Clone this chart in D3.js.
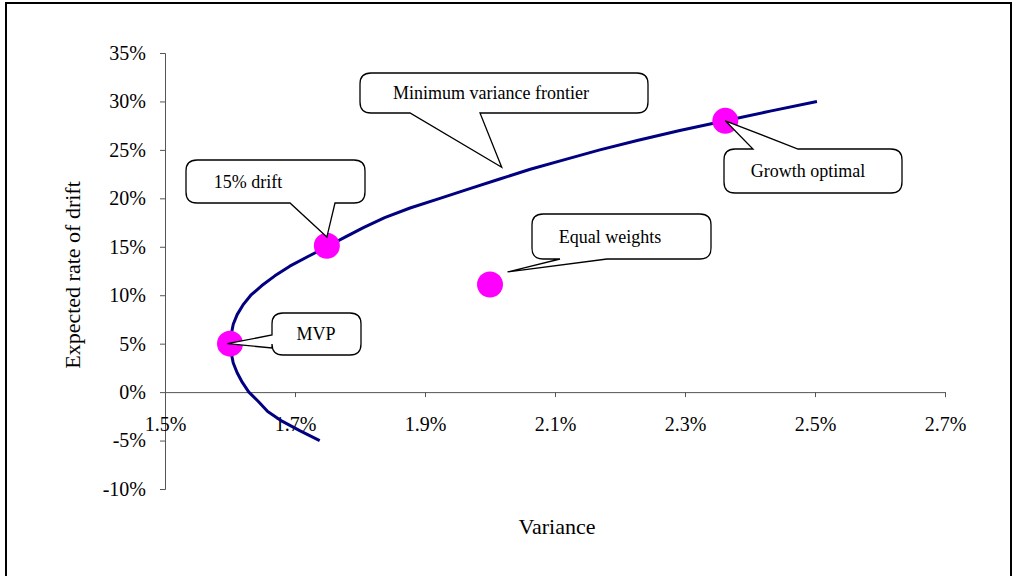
<!DOCTYPE html>
<html>
<head>
<meta charset="utf-8">
<script src="https://cdn.jsdelivr.net/npm/d3@7/dist/d3.min.js"></script>
<style>
  body { margin: 0; background: #fff; }
  svg { display: block; font-family: "Liberation Serif", "Times New Roman", serif; }
</style>
</head>
<body>
<svg id="chart" width="1016" height="576"></svg>
<script>
// frontier: expected drift (%) vs variance (%)
const frontierDrift = [-5, -4, -3, -2, -1, 0, 1, 2, 3, 4, 5, 6, 7, 8, 9, 10, 11, 12, 13, 14, 15,
  16, 17, 18, 19, 20, 21, 22, 23, 24, 25, 26, 27, 28, 29, 30];
const frontierVariance = [1.738, 1.708, 1.680, 1.658, 1.644, 1.629, 1.619, 1.611, 1.605, 1.602, 1.600,
  1.602, 1.605, 1.611, 1.620, 1.632, 1.649, 1.669, 1.692, 1.720, 1.749,
  1.777, 1.806, 1.838, 1.877, 1.923, 1.969, 2.015, 2.062, 2.115, 2.169,
  2.228, 2.292, 2.362, 2.431, 2.503];

// marked portfolios
const pointNames = ["MVP", "15% drift", "Growth optimal", "Equal weights"];
const pointVariance = [1.600, 1.749, 2.362, 2.000];
const pointDrift = [5, 15.1, 28, 11.1];

const xTicks = [1.5, 1.7, 1.9, 2.1, 2.3, 2.5, 2.7];
const yTicks = [-10, -5, 0, 5, 10, 15, 20, 25, 30, 35];

// callout label for the curve itself
const curveLabel = "Minimum variance frontier";
const curveAnchor = [2.018, 23.2];

const svg = d3.select("#chart");

// ramka
svg.append("path")
  .attr("d", "M6,580V3H1011V580")
  .attr("fill", "none").attr("stroke", "#000").attr("stroke-width", 2);

const x = d3.scaleLinear().domain([1.5, 2.7]).range([165, 945]);
const y = d3.scaleLinear().domain([-10, 35]).range([489, 53]);

// osie
const yAxis = svg.append("g").attr("transform", `translate(${x(1.5)},0)`)
  .call(d3.axisLeft(y).tickValues(yTicks).tickSize(5).tickPadding(14).tickFormat(d => d + "%"));
const xAxis = svg.append("g").attr("transform", `translate(0,${y(0)})`)
  .call(d3.axisBottom(x).tickValues(xTicks).tickSize(5).tickPadding(20).tickFormat(d => d.toFixed(1) + "%"));

[xAxis, yAxis].forEach(g => {
  g.attr("font-family", null).attr("font-size", null);
  g.select(".domain").attr("stroke", "#555");
  g.selectAll(".tick line").attr("stroke", "#555");
  g.selectAll("text").attr("fill", "#000").style("font-size", "20px");
});

svg.append("text").attr("x", 557).attr("y", 534).attr("text-anchor", "middle")
  .style("font-size", "22px").text("Variance");
svg.append("text").attr("transform", "translate(80,275) rotate(-90)").attr("text-anchor", "middle")
  .style("font-size", "22px").text("Expected rate of drift");

// krzywa
const line = d3.line().x((d, i) => x(frontierVariance[i])).y(d => y(d));
svg.append("path").datum(frontierDrift)
  .attr("d", line)
  .attr("fill", "none").attr("stroke", "#000080").attr("stroke-width", 3)
  .attr("stroke-linejoin", "round");

// punkty
svg.selectAll("circle.pt").data(pointNames).join("circle")
  .attr("class", "pt")
  .attr("cx", (d, i) => x(pointVariance[i]))
  .attr("cy", (d, i) => y(pointDrift[i]))
  .attr("r", 13)
  .attr("fill", "#ff00ff");

// dymki (box layout in pixels, anchor from data)
const callouts = [
  { text: curveLabel, anchor: curveAnchor, x0: 360, y0: 73, x1: 648, y1: 113, side: "bottom", a: 410, c: 480, tx: 491 },
  { text: pointNames[1], anchor: [pointVariance[1], pointDrift[1] + 0.9], x0: 186, y0: 160, x1: 365, y1: 203, side: "bottom", a: 290, c: 335, tx: 248 },
  { text: pointNames[0], anchor: [pointVariance[0] - 0.004, pointDrift[0]], x0: 272, y0: 313, x1: 361, y1: 355, side: "left", a: 335, c: 348, tx: 316 },
  { text: pointNames[2], anchor: [pointVariance[2], pointDrift[2]], x0: 724, y0: 149, x1: 902, y1: 193, side: "top", a: 753, c: 798, tx: 808 },
  { text: pointNames[3], anchor: [pointVariance[3] + 0.027, pointDrift[3] + 1.3], x0: 532, y0: 214, x1: 711, y1: 259, side: "bottom", a: 560, c: 607, tx: 610 }
];

function calloutPath(b) {
  const r = 11;
  const px = x(b.anchor[0]), py = y(b.anchor[1]);
  const { x0, y0, x1, y1 } = b;
  let p = `M${x0 + r},${y0}`;
  if (b.side === "top") p += `L${b.a},${y0}L${px},${py}L${b.c},${y0}`;
  p += `L${x1 - r},${y0}Q${x1},${y0} ${x1},${y0 + r}L${x1},${y1 - r}Q${x1},${y1} ${x1 - r},${y1}`;
  if (b.side === "bottom") p += `L${b.c},${y1}L${px},${py}L${b.a},${y1}`;
  p += `L${x0 + r},${y1}Q${x0},${y1} ${x0},${y1 - r}`;
  if (b.side === "left") p += `L${x0},${b.c}L${px},${py}L${x0},${b.a}`;
  p += `L${x0},${y0 + r}Q${x0},${y0} ${x0 + r},${y0}Z`;
  return p;
}

const cg = svg.selectAll("g.callout").data(callouts).join("g").attr("class", "callout");
cg.append("path").attr("d", calloutPath)
  .attr("fill", "#fff").attr("stroke", "#000").attr("stroke-width", 1.3);
cg.append("text")
  .attr("x", d => d.tx)
  .attr("y", d => (d.y0 + d.y1) / 2)
  .attr("text-anchor", "middle").attr("dominant-baseline", "central")
  .style("font-size", "18px").text(d => d.text);
</script>
</body>
</html>
